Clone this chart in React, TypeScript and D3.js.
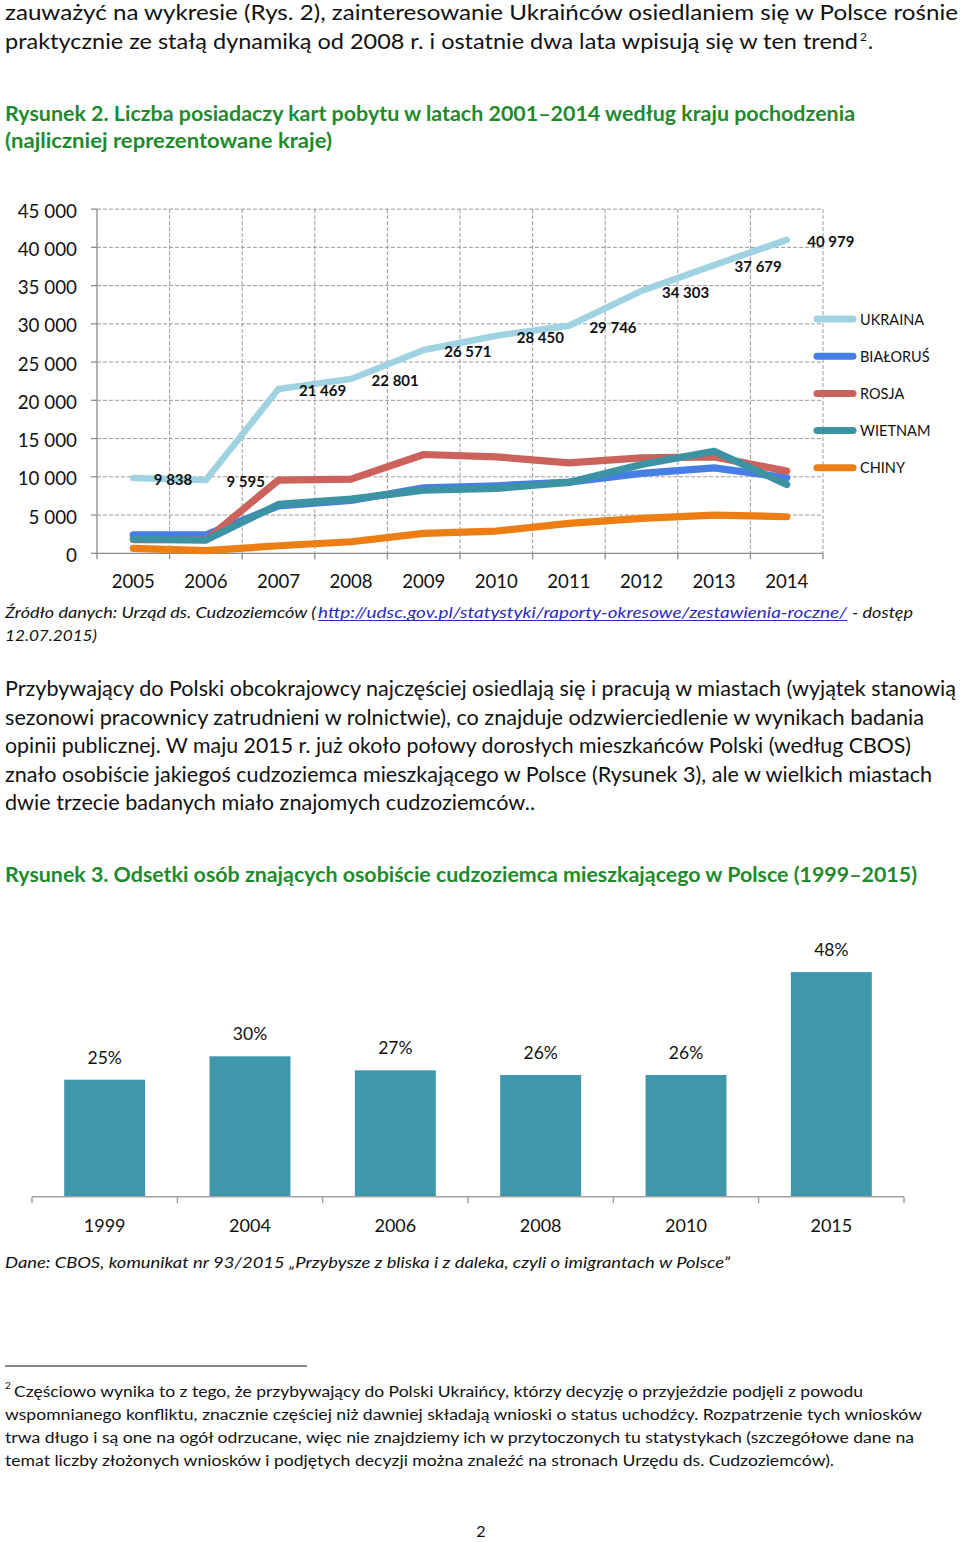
import React from "react";
import * as d3 from "d3";

// ---------- data: line chart (Rysunek 2) ----------
const years = ["2005", "2006", "2007", "2008", "2009", "2010", "2011", "2012", "2013", "2014"];
const ukraina = [9838, 9595, 21469, 22801, 26571, 28450, 29746, 34303, 37679, 40979];
const bialorus = [2400, 2400, 6200, 6900, 8560, 8830, 9300, 10440, 11170, 9880];
const rosja = [1800, 1750, 9570, 9700, 12920, 12610, 11830, 12480, 12610, 10740];
const wietnam = [1870, 1740, 6390, 7090, 8260, 8480, 9260, 11610, 13350, 9000];
const chiny = [650, 340, 990, 1510, 2610, 2910, 3910, 4570, 5000, 4780];
const seriesNames = ["UKRAINA", "BIAŁORUŚ", "ROSJA", "WIETNAM", "CHINY"];
const seriesColors = ["#9fd3e2", "#477ee6", "#cc625c", "#3b93a3", "#ec7e14"];
const yTicks = [0, 5000, 10000, 15000, 20000, 25000, 30000, 35000, 40000, 45000];

// ---------- data: bar chart (Rysunek 3) ----------
const barYears = ["1999", "2004", "2006", "2008", "2010", "2015"];
const barValues = [25, 30, 27, 26, 26, 48];

const FONT = "Lato, 'Open Sans', sans-serif";
const GREEN = "#1f8a2c";

const paragraph = [
  { t: "Przybywający do Polski obcokrajowcy najczęściej osiedlają się i pracują w miastach (wyjątek stanowią", w: 951 },
  { t: "sezonowi pracownicy zatrudnieni w rolnictwie), co znajduje odzwierciedlenie w wynikach badania", w: 919 },
  { t: "opinii publicznej. W maju 2015 r. już około połowy dorosłych mieszkańców Polski (według CBOS)", w: 906 },
  { t: "znało osobiście jakiegoś cudzoziemca mieszkającego w Polsce (Rysunek 3), ale w wielkich miastach", w: 927 },
  { t: "dwie trzecie badanych miało znajomych cudzoziemców..", w: 530 },
];

const footnote = [
  { t: "Częściowo wynika to z tego, że przybywający do Polski Ukraińcy, którzy decyzję o przyjeździe podjęli z powodu", x: 14, w: 849 },
  { t: "wspomnianego konfliktu, znacznie częściej niż dawniej składają wnioski o status uchodźcy. Rozpatrzenie tych wniosków", x: 5, w: 917 },
  { t: "trwa długo i są one na ogół odrzucane, więc nie znajdziemy ich w przytoczonych tu statystykach (szczegółowe dane na", x: 5, w: 909 },
  { t: "temat liczby złożonych wniosków i podjętych decyzji można znaleźć na stronach Urzędu ds. Cudzoziemców).", x: 5, w: 829 },
];

function Txt(props: any) {
  const { x, y, len, size, weight, fill, italic, anchor, children } = props;
  return (
    <text
      x={x}
      y={y}
      fontFamily={FONT}
      fontSize={size}
      fontWeight={weight || 400}
      fontStyle={italic ? "italic" : "normal"}
      fill={fill || "#111"}
      textAnchor={anchor || "start"}
      textLength={len}
      lengthAdjust={len ? "spacingAndGlyphs" : undefined}
    >
      {children}
    </text>
  );
}

export default function App() {
  // line chart scales
  const x = d3.scaleBand<string>().domain(years).range([97, 823]).padding(0);
  const y = d3.scaleLinear().domain([0, 45000]).range([553.3, 209.1]);
  const cx = (d: string) => (x(d) as number) + x.bandwidth() / 2;
  const line = d3
    .line<number>()
    .x((_, i) => cx(years[i]))
    .y((v) => y(v));
  const allSeries = [ukraina, bialorus, rosja, wietnam, chiny];
  const bounds = [...years.map((d) => x(d) as number), 823];
  const fmt = (v: number) => d3.format(",")(v).replace(/,/g, " ");

  // bar chart scales
  const bx = d3.scaleBand<string>().domain(barYears).range([32, 904]).paddingInner(0.443).paddingOuter(0.2215);
  const by = d3.scaleLinear().domain([0, 50]).range([1196.7, 962.7]);
  const bStep = bx.step();
  const bBounds = barYears.map((_, i) => 32 + i * bStep).concat([904]);

  return (
    <svg
      width={960}
      height={1542}
      viewBox="0 0 960 1542"
      style={{ position: "absolute", left: 0, top: 0, display: "block", background: "#fff" }}
    >
      <rect x={0} y={0} width={960} height={1542} fill="#fff" />

      {/* top body text */}
      <Txt x={5} y={20} size={21} len={953}>
        zauważyć na wykresie (Rys. 2), zainteresowanie Ukraińców osiedlaniem się w Polsce rośnie
      </Txt>
      <Txt x={5} y={48.5} size={21} len={853}>
        praktycznie ze stałą dynamiką od 2008 r. i ostatnie dwa lata wpisują się w ten trend
      </Txt>
      <Txt x={860} y={41} size={12}>2</Txt>
      <Txt x={868} y={48.5} size={21}>.</Txt>

      {/* title 2 */}
      <Txt x={5} y={121} size={20.5} weight={700} fill={GREEN} len={850}>
        Rysunek 2. Liczba posiadaczy kart pobytu w latach 2001–2014 według kraju pochodzenia
      </Txt>
      <Txt x={5} y={147.5} size={20.5} weight={700} fill={GREEN} len={327}>
        (najliczniej reprezentowane kraje)
      </Txt>

      {/* line chart grid */}
      <g>
        {yTicks.filter((t) => t > 0).map((t) => (
          <line key={"h" + t} x1={97} x2={823} y1={y(t)} y2={y(t)} stroke="#9a9a9a" strokeWidth={1} strokeDasharray="4,2" />
        ))}
        {bounds.slice(1).map((b, i) => (
          <line key={"v" + i} x1={b} x2={b} y1={y(45000)} y2={y(0)} stroke="#9a9a9a" strokeWidth={1} strokeDasharray="4,2" />
        ))}
        {/* axes */}
        <line x1={97} x2={97} y1={y(45000)} y2={y(0)} stroke="#8c8c8c" strokeWidth={1.3} />
        <line x1={97} x2={823} y1={y(0)} y2={y(0)} stroke="#8c8c8c" strokeWidth={1.3} />
        {yTicks.map((t) => (
          <line key={"yt" + t} x1={91} x2={97} y1={y(t)} y2={y(t)} stroke="#8c8c8c" strokeWidth={1.3} />
        ))}
        {bounds.map((b, i) => (
          <line key={"xt" + i} x1={b} x2={b} y1={y(0)} y2={y(0) + 6} stroke="#8c8c8c" strokeWidth={1.3} />
        ))}
        {yTicks.map((t) => (
          <Txt key={"yl" + t} x={77} y={y(t) + 8.5} size={18.8} anchor="end">
            {fmt(t)}
          </Txt>
        ))}
        {years.map((d) => (
          <Txt key={"xl" + d} x={cx(d)} y={588} size={18.6} anchor="middle">
            {d}
          </Txt>
        ))}
      </g>

      {/* series */}
      <g>
        {allSeries.map((s, i) => (
          <path
            key={seriesNames[i]}
            d={line(s) || ""}
            fill="none"
            stroke={seriesColors[i]}
            strokeWidth={i === 0 ? 6.5 : 7.2}
            strokeLinecap="round"
            strokeLinejoin="round"
          />
        ))}
        {ukraina.map((v, i) => (
          <Txt key={"dl" + i} x={cx(years[i]) + 20.5} y={y(v) + 7} size={15} weight={700} fill="#111">
            {fmt(v)}
          </Txt>
        ))}
      </g>

      {/* legend */}
      <g>
        {seriesNames.map((n, i) => (
          <g key={"lg" + n}>
            <line
              x1={817}
              x2={853}
              y1={319 + i * 37.2}
              y2={319 + i * 37.2}
              stroke={seriesColors[i]}
              strokeWidth={7}
              strokeLinecap="round"
            />
            <Txt x={860} y={319 + i * 37.2 + 5.5} size={14.5}>
              {n}
            </Txt>
          </g>
        ))}
      </g>

      {/* source */}
      <Txt x={5} y={618} size={15.5} italic len={311}>
        Źródło danych: Urząd ds. Cudzoziemców (
      </Txt>
      <Txt x={318} y={618} size={15.5} italic len={529} fill="#2b2bbd">
        http://udsc.gov.pl/statystyki/raporty-okresowe/zestawienia-roczne/
      </Txt>
      <line x1={318} x2={847} y1={620.5} y2={620.5} stroke="#2b2bbd" strokeWidth={1} />
      <Txt x={852} y={618} size={15.5} italic len={61}>
        - dostęp
      </Txt>
      <Txt x={5} y={640.5} size={15.5} italic len={92}>
        12.07.2015)
      </Txt>

      {/* paragraph */}
      {paragraph.map((p, i) => (
        <Txt key={"p" + i} x={5} y={696 + i * 28.5} size={20.5} len={p.w}>
          {p.t}
        </Txt>
      ))}

      {/* title 3 */}
      <Txt x={5} y={881.5} size={20.5} weight={700} fill={GREEN} len={912}>
        Rysunek 3. Odsetki osób znających osobiście cudzoziemca mieszkającego w Polsce (1999–2015)
      </Txt>

      {/* bar chart */}
      <g>
        {barYears.map((d, i) => (
          <rect
            key={"b" + d}
            x={bx(d) as number}
            y={by(barValues[i])}
            width={bx.bandwidth()}
            height={by(0) - by(barValues[i])}
            fill="#3f97ad"
          />
        ))}
        <line x1={32} x2={904} y1={by(0)} y2={by(0)} stroke="#a3a3a3" strokeWidth={1.5} />
        {bBounds.map((b, i) => (
          <line key={"bt" + i} x1={b} x2={b} y1={by(0)} y2={by(0) + 6.5} stroke="#a3a3a3" strokeWidth={1.5} />
        ))}
        {barYears.map((d, i) => (
          <Txt
            key={"bl" + d}
            x={(bx(d) as number) + bx.bandwidth() / 2}
            y={by(barValues[i]) - 16}
            size={17.5}
            anchor="middle"
          >
            {barValues[i] + "%"}
          </Txt>
        ))}
        {barYears.map((d) => (
          <Txt key={"bx" + d} x={(bx(d) as number) + bx.bandwidth() / 2} y={1231.7} size={18} anchor="middle">
            {d}
          </Txt>
        ))}
      </g>

      <Txt x={5} y={1267.5} size={15.5} italic len={725}>
        Dane: CBOS, komunikat nr 93/2015 „Przybysze z bliska i z daleka, czyli o imigrantach w Polsce”
      </Txt>

      {/* footnote */}
      <line x1={5} x2={307} y1={1366} y2={1366} stroke="#111" strokeWidth={1} />
      <Txt x={5} y={1389} size={10}>2</Txt>
      {footnote.map((f, i) => (
        <Txt key={"f" + i} x={f.x} y={1397 + i * 23} size={15.5} len={f.w}>
          {f.t}
        </Txt>
      ))}

      <Txt x={481} y={1537} size={16} anchor="middle">
        2
      </Txt>
    </svg>
  );
}
